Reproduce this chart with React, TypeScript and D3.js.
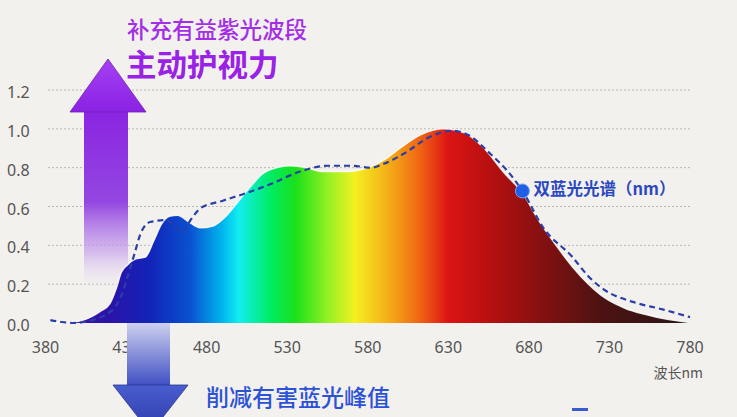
import * as d3 from "d3";
import { useEffect, useRef } from "react";

const xTicks = [380, 430, 480, 530, 580, 630, 680, 730, 780];
const yTicks = [0, 0.2, 0.4, 0.6, 0.8, 1.0, 1.2];

// full-spectrum LED curve (filled)
const spectrumNm = [385, 395, 402, 408, 414, 420, 424, 427, 431, 436, 442, 447, 452, 457, 462, 469, 476, 484, 492, 500, 507, 515, 523, 532, 542, 552, 565, 580, 590, 600, 613, 627, 640, 651, 665, 676, 686, 696, 707, 717, 727, 740, 752, 765, 780];
const spectrumVal = [0, 0.003, 0.012, 0.03, 0.06, 0.1, 0.18, 0.26, 0.3, 0.33, 0.34, 0.42, 0.51, 0.55, 0.555, 0.52, 0.49, 0.5, 0.55, 0.63, 0.7, 0.77, 0.8, 0.81, 0.8, 0.78, 0.78, 0.8, 0.84, 0.9, 0.97, 1.0, 0.98, 0.91, 0.77, 0.67, 0.53, 0.41, 0.29, 0.2, 0.13, 0.075, 0.045, 0.02, 0.003];

// dual blue spectrum (dashed)
const dualBlueNm = [383, 390, 397, 404, 411, 418, 423, 427, 431, 435, 439, 445, 455, 460, 465, 470, 476, 490, 505, 521, 538, 555, 570, 582, 590, 602, 619, 632, 642, 655, 669, 676, 689, 707, 717, 727, 744, 763, 780];
const dualBlueVal = [0.015, 0.005, 0, 0.005, 0.02, 0.045, 0.08, 0.14, 0.24, 0.35, 0.46, 0.52, 0.53, 0.5, 0.47, 0.53, 0.59, 0.63, 0.67, 0.72, 0.78, 0.81, 0.81, 0.8, 0.82, 0.87, 0.96, 0.99, 0.97, 0.88, 0.76, 0.68, 0.49, 0.34, 0.24, 0.17, 0.11, 0.07, 0.03];

const colorNm = [395, 420, 445, 470, 490, 500, 520, 535, 555, 572, 595, 612, 630, 655, 685, 725, 775];
const colorHex = ["#3c16a4", "#2a12aa", "#1224b8", "#0a52d0", "#00b6ee", "#12eef0", "#00ec62", "#1ae01a", "#92f024", "#f4f022", "#f4a616", "#f06614", "#dc1414", "#b81010", "#8a1010", "#4c1212", "#2c1616"];

const markerNm = 676;
const markerVal = 0.68;
const markerLabel = "双蓝光光谱（nm）";
const titleTop = "补充有益紫光波段";
const titleMain = "主动护视力";
const bottomText = "削减有害蓝光峰值";
const xUnit = "波长nm";

const width = 737;
const height = 417;
const cjk = "'Noto Sans CJK SC', 'Noto Sans', sans-serif";
const num = "'Noto Sans', Roboto, sans-serif";

export default function App() {
  const svgRef = useRef<SVGSVGElement | null>(null);

  useEffect(() => {
    const svg = d3.select(svgRef.current);
    svg.selectAll("*").remove();
    svg.attr("width", width).attr("height", height);

    const x = d3.scaleLinear().domain([380, 780]).range([45.5, 690]);
    const y = d3.scaleLinear().domain([0, 1.2]).range([323, 90]);

    const defs = svg.append("defs");

    const spec = defs
      .append("linearGradient")
      .attr("id", "spec")
      .attr("gradientUnits", "userSpaceOnUse")
      .attr("x1", x(380))
      .attr("x2", x(780))
      .attr("y1", 0)
      .attr("y2", 0);
    colorNm.forEach((nm, i) => {
      spec
        .append("stop")
        .attr("offset", (nm - 380) / 400)
        .attr("stop-color", colorHex[i]);
    });

    const vGrad = (id: string, stops: [number, string, number][]) => {
      const g = defs
        .append("linearGradient")
        .attr("id", id)
        .attr("x1", 0)
        .attr("x2", 0)
        .attr("y1", 0)
        .attr("y2", 1);
      stops.forEach(([o, c, a]) => {
        g.append("stop").attr("offset", o).attr("stop-color", c).attr("stop-opacity", a);
      });
    };
    vGrad("upShaft", [
      [0, "#8a24e2", 1],
      [0.5, "#8f3ee0", 0.95],
      [0.78, "#c9a6ec", 0.7],
      [1, "#f3eef6", 0],
    ]);
    vGrad("upHead", [
      [0, "#a640f4", 1],
      [1, "#8a22e2", 1],
    ]);
    vGrad("downShaft", [
      [0, "#cdd0ef", 1],
      [1, "#3e4ec2", 1],
    ]);
    vGrad("downHead", [
      [0, "#4a5ed0", 1],
      [1, "#2c38a6", 1],
    ]);

    // background
    svg.append("rect").attr("width", width).attr("height", height).attr("fill", "#f3f1ee");

    // grid
    svg
      .selectAll(".grid")
      .data(yTicks.filter((t) => t > 0))
      .enter()
      .append("line")
      .attr("class", "grid")
      .attr("x1", 48)
      .attr("x2", 690)
      .attr("y1", (d) => y(d))
      .attr("y2", (d) => y(d))
      .attr("stroke", "#bab8b5")
      .attr("stroke-width", 1)
      .attr("stroke-dasharray", "2,2");

    // y labels
    svg
      .selectAll(".ylab")
      .data(yTicks)
      .enter()
      .append("text")
      .attr("class", "ylab")
      .attr("x", 7)
      .attr("y", (d) => y(d) + 2)
      .attr("dominant-baseline", "central")
      .attr("font-family", num)
      .attr("font-size", "16px")
      .attr("fill", "#555")
      .text((d) => d.toFixed(1));

    // x labels
    svg
      .selectAll(".xlab")
      .data(xTicks)
      .enter()
      .append("text")
      .attr("class", "xlab")
      .attr("x", (d) => x(d))
      .attr("y", 347)
      .attr("text-anchor", "middle")
      .attr("dominant-baseline", "central")
      .attr("font-family", num)
      .attr("font-size", "16px")
      .attr("fill", "#555")
      .text((d) => d);

    svg
      .append("text")
      .attr("x", 703)
      .attr("y", 372)
      .attr("text-anchor", "end")
      .attr("dominant-baseline", "central")
      .attr("font-family", cjk)
      .attr("font-size", "14px")
      .attr("fill", "#555")
      .text(xUnit);

    // up arrow
    svg
      .append("rect")
      .attr("x", 84)
      .attr("y", 111)
      .attr("width", 44)
      .attr("height", 182)
      .attr("fill", "url(#upShaft)");
    svg
      .append("path")
      .attr("d", "M70,112 L108,59 L146,112 Z")
      .attr("fill", "url(#upHead)")
      .attr("stroke", "#6e1fb8")
      .attr("stroke-width", 0.8);

    // spectrum
    const area = d3
      .area<number>()
      .x((_, i) => x(spectrumNm[i]))
      .y0(y(0))
      .y1((d) => y(d))
      .curve(d3.curveMonotoneX);
    svg
      .append("path")
      .datum(spectrumVal)
      .attr("fill", "url(#spec)")
      .attr("d", area);

    const top = d3
      .line<number>()
      .x((_, i) => x(spectrumNm[i]))
      .y((d) => y(d))
      .curve(d3.curveMonotoneX);
    svg
      .append("path")
      .datum(spectrumVal)
      .attr("fill", "none")
      .attr("stroke", "#ffffff")
      .attr("stroke-opacity", 0.85)
      .attr("stroke-width", 1.5)
      .attr("d", top);

    // dual blue line
    const line = d3
      .line<number>()
      .x((_, i) => x(dualBlueNm[i]))
      .y((d) => y(d))
      .curve(d3.curveMonotoneX);
    svg
      .append("path")
      .datum(dualBlueVal)
      .attr("fill", "none")
      .attr("stroke", "#2a3ea8")
      .attr("stroke-width", 2.2)
      .attr("stroke-dasharray", "6,4")
      .attr("d", line);

    svg
      .append("circle")
      .attr("cx", x(markerNm))
      .attr("cy", y(markerVal))
      .attr("r", 7)
      .attr("fill", "#1f5fe6")
      .attr("stroke", "#7aa0f0")
      .attr("stroke-width", 1);

    svg
      .append("text")
      .attr("x", x(markerNm) + 11)
      .attr("y", y(markerVal) - 3)
      .attr("dominant-baseline", "central")
      .attr("font-family", cjk)
      .attr("font-size", "16.5px")
      .attr("font-weight", 700)
      .attr("fill", "#2a48c0")
      .text(markerLabel);

    // down arrow
    svg
      .append("rect")
      .attr("x", 127)
      .attr("y", 323)
      .attr("width", 43)
      .attr("height", 63)
      .attr("fill", "url(#downShaft)");
    svg
      .append("path")
      .attr("d", "M113,385 L188,385 L150.5,433 Z")
      .attr("fill", "url(#downHead)")
      .attr("stroke", "#28338f")
      .attr("stroke-width", 0.8);

    // texts
    svg
      .append("text")
      .attr("x", 127)
      .attr("y", 28)
      .attr("dominant-baseline", "central")
      .attr("font-family", cjk)
      .attr("font-size", "22.5px")
      .attr("font-weight", 500)
      .attr("fill", "#a42ee8")
      .text(titleTop);

    svg
      .append("text")
      .attr("x", 126)
      .attr("y", 63)
      .attr("dominant-baseline", "central")
      .attr("font-family", cjk)
      .attr("font-size", "30.5px")
      .attr("font-weight", 700)
      .attr("fill", "#9a22e6")
      .text(titleMain);

    svg
      .append("text")
      .attr("x", 206)
      .attr("y", 396)
      .attr("dominant-baseline", "central")
      .attr("font-family", cjk)
      .attr("font-size", "23px")
      .attr("font-weight", 500)
      .attr("fill", "#2c52d6")
      .text(bottomText);

    svg
      .append("rect")
      .attr("x", 572)
      .attr("y", 408)
      .attr("width", 16)
      .attr("height", 3)
      .attr("fill", "#3a5ad0");
  }, []);

  return <svg ref={svgRef} style={{ position: "absolute", left: 0, top: 0 }}></svg>;
}
